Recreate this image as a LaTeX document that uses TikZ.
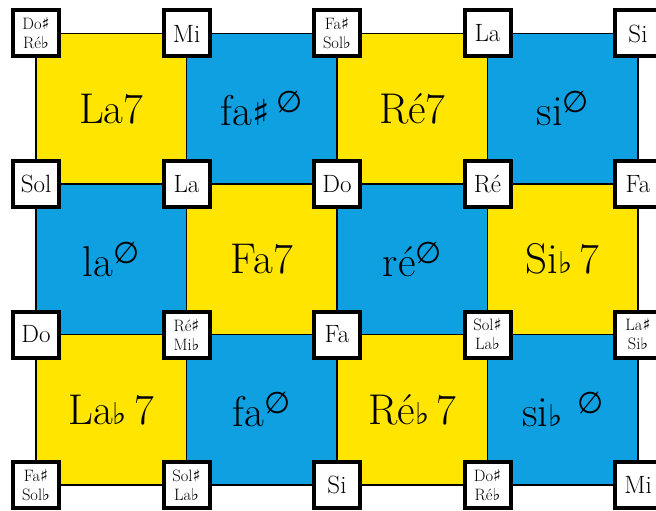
\documentclass[tikz,border=0pt]{standalone}
\usepackage{fontspec}
\usepackage{tikz}
\usetikzlibrary{positioning}
\newfontfamily\symb{DejaVu Sans}
\definecolor{jaune}{RGB}{255, 229, 0}
\definecolor{bleu}{RGB}{14, 160, 224}
\newcommand{\demidim}{\raisebox{0.3em}{{\symb\fontsize{30}{30}\selectfont ∅}}}
\newcommand{\bemol}{{\symb\fontsize{30}{30}\selectfont ♭}}
\newcommand{\diese}{{\symb\fontsize{36}{36}\selectfont ♯}}
\newcommand{\pb}{{\symb ♭}}
\newcommand{\pd}{{\symb ♯}}

\begin{document}
\begin{tikzpicture}[x=1pt, y=-1pt,
    accord/.style={rectangle, draw=black, line width=1.2pt, outer sep=0pt, minimum size=150.5pt, inner sep=0pt, font=\fontsize{43}{50}\selectfont},
    maj/.style={accord, fill=jaune},
    dim/.style={accord, fill=bleu},
    note/.style={rectangle, draw=black, fill=white, line width=4pt, minimum size=46pt, inner sep=0pt, align=center, font=\fontsize{25}{28}\selectfont},
    enh/.style={note, font=\fontsize{16.5}{19}\selectfont}
]
\useasboundingbox (0,0) rectangle (656,511);

% les accords
\node[maj] (la7) at (111.25,108.75) {La7};
\node[dim, right=0pt of la7] (fad) {fa\diese\,\demidim};
\node[maj, right=0pt of fad] (re7) {Ré7};
\node[dim, right=0pt of re7] (si) {si\demidim};

\node[dim, below=0pt of la7] (la) {la\demidim};
\node[maj, right=0pt of la] (fa7) {Fa7};
\node[dim, right=0pt of fa7] (re) {ré\demidim};
\node[maj, right=0pt of re] (sib7) {Si\bemol\,7};

\node[maj, below=0pt of la] (lab7) {La\bemol\,7};
\node[dim, right=0pt of lab7] (fa) {fa\demidim};
\node[maj, right=0pt of fa] (reb7) {Ré\bemol\,7};
\node[dim, right=0pt of reb7] (sib) {si\bemol\,\,\demidim};

% les notes aux coins
\node[enh] (n11) at (la7.north west) {Do\pd\\Ré\pb};
\node[note] (n12) at (fad.north west) {Mi};
\node[enh] (n13) at (re7.north west) {Fa\pd\\Sol\pb};
\node[note] (n14) at (si.north west) {La};
\node[note] (n15) at (si.north east) {Si};

\node[note] (n21) at (la.north west) {Sol};
\node[note] (n22) at (fa7.north west) {La};
\node[note] (n23) at (re.north west) {Do};
\node[note] (n24) at (sib7.north west) {Ré};
\node[note] (n25) at (sib7.north east) {Fa};

\node[note] (n31) at (lab7.north west) {Do};
\node[enh] (n32) at (fa.north west) {Ré\pd\\Mi\pb};
\node[note] (n33) at (reb7.north west) {Fa};
\node[enh] (n34) at (sib.north west) {Sol\pd\\La\pb};
\node[enh] (n35) at (sib.north east) {La\pd\\Si\pb};

\node[enh] (n41) at (lab7.south west) {Fa\pd\\Sol\pb};
\node[enh] (n42) at (fa.south west) {Sol\pd\\La\pb};
\node[note] (n43) at (reb7.south west) {Si};
\node[enh] (n44) at (sib.south west) {Do\pd\\Ré\pb};
\node[note] (n45) at (sib.south east) {Mi};
\end{tikzpicture}
\end{document}
